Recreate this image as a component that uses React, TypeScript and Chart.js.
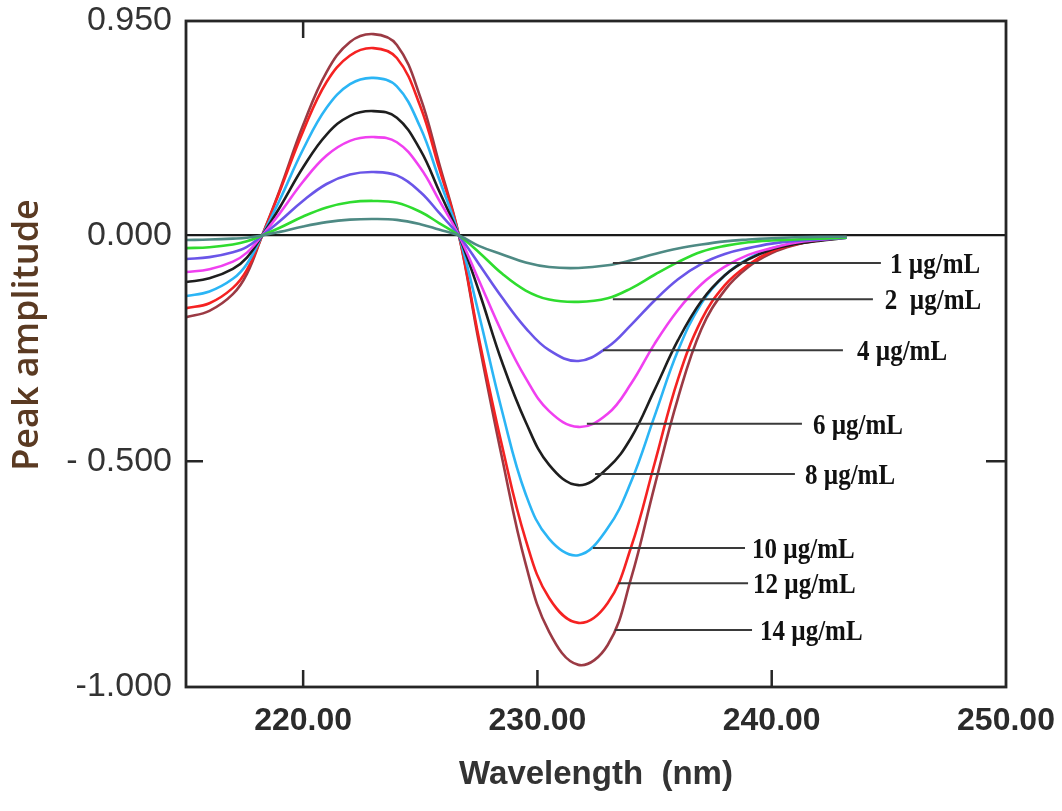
import React, { useEffect, useRef } from 'react';
import { Chart, LinearScale, registerables } from 'chart.js';

Chart.register(...registerables);

// ---------- data ----------
const WAVELENGTHS = [215, 216, 217, 217.6, 218.25, 219, 220, 221, 222, 223, 224, 225, 225.8, 226.65, 227.5, 228.5, 229.5, 230.5, 231.75, 233, 234, 235, 236, 237, 238, 239, 240, 241, 242, 243.2];

const C1 = [-0.010, -0.009, -0.007, -0.005, 0, 0.016, 0.040, 0.059, 0.070, 0.073, 0.069, 0.050, 0.026, 0, -0.023, -0.042, -0.060, -0.070, -0.072, -0.066, -0.055, -0.041, -0.029, -0.020, -0.013, -0.009, -0.006, -0.004, -0.003, -0.003];
const C2 = [-0.028, -0.026, -0.020, -0.013, 0, 0.034, 0.084, 0.124, 0.147, 0.153, 0.145, 0.105, 0.055, 0, -0.037, -0.085, -0.122, -0.142, -0.147, -0.139, -0.117, -0.087, -0.059, -0.036, -0.023, -0.015, -0.011, -0.009, -0.007, -0.005];
const C4 = [-0.052, -0.048, -0.037, -0.025, 0, 0.063, 0.154, 0.228, 0.270, 0.281, 0.266, 0.193, 0.101, 0, -0.063, -0.138, -0.205, -0.254, -0.278, -0.247, -0.198, -0.144, -0.097, -0.063, -0.041, -0.028, -0.018, -0.012, -0.009, -0.005];
const C6 = [-0.081, -0.075, -0.058, -0.038, 0, 0.098, 0.239, 0.354, 0.419, 0.436, 0.413, 0.300, 0.157, 0, -0.099, -0.216, -0.316, -0.389, -0.424, -0.395, -0.328, -0.240, -0.165, -0.108, -0.069, -0.043, -0.028, -0.016, -0.010, -0.005];
const C8 = [-0.103, -0.095, -0.074, -0.049, 0, 0.124, 0.302, 0.447, 0.530, 0.551, 0.522, 0.379, 0.198, 0, -0.123, -0.282, -0.413, -0.508, -0.553, -0.515, -0.448, -0.342, -0.232, -0.145, -0.088, -0.053, -0.031, -0.019, -0.012, -0.005];
const C10 = [-0.134, -0.124, -0.096, -0.063, 0, 0.157, 0.382, 0.566, 0.670, 0.698, 0.660, 0.479, 0.251, 0, -0.174, -0.391, -0.573, -0.672, -0.708, -0.648, -0.545, -0.400, -0.255, -0.150, -0.088, -0.051, -0.028, -0.018, -0.010, -0.005];
const C12 = [-0.161, -0.150, -0.116, -0.076, 0, 0.195, 0.462, 0.680, 0.797, 0.830, 0.786, 0.572, 0.300, 0, -0.227, -0.468, -0.674, -0.803, -0.858, -0.814, -0.690, -0.505, -0.318, -0.187, -0.110, -0.065, -0.035, -0.020, -0.011, -0.004];
const C14 = [-0.181, -0.167, -0.130, -0.085, 0, 0.201, 0.489, 0.724, 0.857, 0.892, 0.844, 0.613, 0.321, 0, -0.236, -0.495, -0.728, -0.878, -0.951, -0.907, -0.759, -0.555, -0.360, -0.207, -0.121, -0.070, -0.039, -0.021, -0.010, -0.003];

const SERIES = [C1, C2, C4, C6, C8, C10, C12, C14];
const SERIES_NAMES = ['1 µg/mL', '2 µg/mL', '4 µg/mL', '6 µg/mL', '8 µg/mL', '10 µg/mL', '12 µg/mL', '14 µg/mL'];
const SERIES_COLORS = ['#4e8a84', '#2fdc2f', '#6a55e8', '#f040f0', '#1e1e1e', '#2bb5f5', '#f52222', '#9b3a44'];

// annotation labels with leader lines (data units)
const CONC_LABELS = ['1 µg/mL', '2  µg/mL', '4 µg/mL', '6 µg/mL', '8 µg/mL', '10 µg/mL', '12 µg/mL', '14 µg/mL'];
const LEADER_Y = [-0.061, -0.141, -0.254, -0.417, -0.528, -0.692, -0.770, -0.874];
const LEADER_X_START = [233.22, 233.22, 232.8, 232.11, 232.46, 232.37, 233.44, 233.31];
const LEADER_X_END = [244.66, 244.32, 243.04, 241.29, 240.99, 238.86, 238.99, 239.16];
const LABEL_X = [245.05, 244.83, 243.64, 241.76, 241.42, 239.16, 239.2, 239.5];

// axes
const X_MIN = 215;
const X_MAX = 250;
const X_TICKS = [220, 230, 240, 250];
const X_INNER_TICKS_BOTTOM = [220, 230, 240];
const X_INNER_TICKS_TOP = [220];
const Y_MIN = -1;
const Y_TOP = 0.95;
const Y_TICKS = [-1, -0.5, 0, 0.95];
const Y_TICK_LABELS = ['-1.000', '- 0.500', '0.000', '0.950'];
const Y_INNER_TICKS = [-0.5];

// positive half of the original axis is drawn at half scale
const POSITIVE_COMPRESSION = 0.5;

class SplitLinearScale extends LinearScale {
  static id = 'splitLinear';
  static defaults = {};
  getPixelForValue(value: any) {
    if (value === null || value === undefined) return NaN;
    return super.getPixelForValue(value > 0 ? value * POSITIVE_COMPRESSION : value);
  }
  getValueForPixel(pixel: number) {
    const v = super.getValueForPixel(pixel);
    return v > 0 ? v / POSITIVE_COMPRESSION : v;
  }
}
Chart.register(SplitLinearScale as any);

const SANS = "'Liberation Sans', Arial, sans-serif";

const overlayPlugin = {
  id: 'overlay',
  afterDatasetsDraw(chart: any) {
    const { ctx, chartArea: a, scales } = chart;
    const x = scales.x;
    const y = scales.y;
    ctx.save();
    // frame
    ctx.strokeStyle = '#262626';
    ctx.lineWidth = 2.8;
    ctx.strokeRect(a.left, a.top, a.right - a.left, a.bottom - a.top);
    // inward ticks
    ctx.lineWidth = 2.5;
    ctx.beginPath();
    for (const v of X_INNER_TICKS_BOTTOM) {
      const px = x.getPixelForValue(v);
      ctx.moveTo(px, a.bottom);
      ctx.lineTo(px, a.bottom - 17);
    }
    for (const v of X_INNER_TICKS_TOP) {
      const px = x.getPixelForValue(v);
      ctx.moveTo(px, a.top);
      ctx.lineTo(px, a.top + 17);
    }
    for (const v of Y_INNER_TICKS) {
      const py = y.getPixelForValue(v);
      ctx.moveTo(a.left, py);
      ctx.lineTo(a.left + 17, py);
      ctx.moveTo(a.right, py);
      ctx.lineTo(a.right - 20, py);
    }
    ctx.stroke();
    // leader lines and concentration labels
    ctx.strokeStyle = '#3a3a3a';
    ctx.lineWidth = 2;
    ctx.fillStyle = '#111';
    ctx.font = "bold 25px 'Liberation Serif', 'Times New Roman', serif";
    ctx.textAlign = 'left';
    ctx.textBaseline = 'middle';
    CONC_LABELS.forEach((label, i) => {
      const py = y.getPixelForValue(LEADER_Y[i]);
      ctx.beginPath();
      ctx.moveTo(x.getPixelForValue(LEADER_X_START[i]), py);
      ctx.lineTo(x.getPixelForValue(LEADER_X_END[i]), py);
      ctx.stroke();
      ctx.save();
      ctx.translate(x.getPixelForValue(LABEL_X[i]), py + 2);
      ctx.scale(1, 1.22);
      ctx.fillText(label, 0, 0);
      ctx.restore();
    });
    ctx.restore();
  },
  afterDraw(chart: any) {
    const { ctx } = chart;
    ctx.save();
    ctx.translate(28, 335);
    ctx.rotate(-Math.PI / 2);
    ctx.font = "600 36px 'Open Sans', sans-serif";
    ctx.fillStyle = '#5a3a22';
    ctx.textAlign = 'center';
    ctx.textBaseline = 'middle';
    ctx.fillText('Peak amplitude', 0, 0);
    ctx.restore();
  },
};

export default function App() {
  const ref = useRef<HTMLCanvasElement>(null);

  useEffect(() => {
    if (!ref.current) return;
    const datasets = SERIES.map((vals, i) => ({
      label: SERIES_NAMES[i],
      data: WAVELENGTHS.map((w, j) => ({ x: w, y: vals[j] })),
      borderColor: SERIES_COLORS[i],
      backgroundColor: SERIES_COLORS[i],
      borderWidth: 2.6,
      pointRadius: 0,
      fill: false,
      tension: 0.4,
    }));

    const chart = new Chart(ref.current, {
      type: 'line',
      data: { datasets },
      options: {
        animation: false,
        responsive: false,
        devicePixelRatio: 1,
        layout: { padding: { left: 0, right: 56, top: 21, bottom: 0 } },
        plugins: {
          legend: { display: false },
          tooltip: { enabled: false },
        },
        scales: {
          x: {
            type: 'linear',
            min: X_MIN,
            max: X_MAX,
            afterBuildTicks: (s: any) => {
              s.ticks = X_TICKS.map((v) => ({ value: v }));
            },
            afterFit: (s: any) => {
              s.height = 124;
              s.paddingLeft = 0;
              s.paddingRight = 0;
            },
            ticks: {
              callback: (v: any) => Number(v).toFixed(2),
              font: { family: SANS, size: 32, weight: 'bold' },
              color: '#2b2b2b',
              padding: 15,
              maxRotation: 0,
              autoSkip: false,
            },
            grid: { display: false, drawTicks: false },
            border: { display: false },
            title: {
              display: true,
              text: 'Wavelength  (nm)',
              font: { family: SANS, size: 33, weight: 'bold' },
              color: '#333',
              padding: { top: 0, bottom: 16 },
            },
          },
          y: {
            type: 'splitLinear' as any,
            min: Y_MIN,
            max: Y_TOP * POSITIVE_COMPRESSION,
            afterBuildTicks: (s: any) => {
              s.ticks = Y_TICKS.map((v) => ({ value: v }));
            },
            afterFit: (s: any) => {
              s.width = 186;
              s.paddingTop = 0;
              s.paddingBottom = 0;
            },
            ticks: {
              callback: (_v: any, i: number) => Y_TICK_LABELS[i],
              font: { family: SANS, size: 34 },
              color: '#333',
              padding: 14,
              autoSkip: false,
            },
            grid: {
              drawTicks: false,
              lineWidth: 2.2,
              color: (c: any) => (c.tick && c.tick.value === 0 ? '#1a1a1a' : 'rgba(0,0,0,0)'),
            },
            border: { display: false },
          } as any,
        },
      },
      plugins: [overlayPlugin],
    });
    return () => chart.destroy();
  }, []);

  return (
    <div style={{ position: 'absolute', left: 0, top: 0, width: 1062, height: 811, background: '#fff' }}>
      <canvas ref={ref} width={1062} height={811} style={{ display: 'block', width: 1062, height: 811 }} />
    </div>
  );
}
